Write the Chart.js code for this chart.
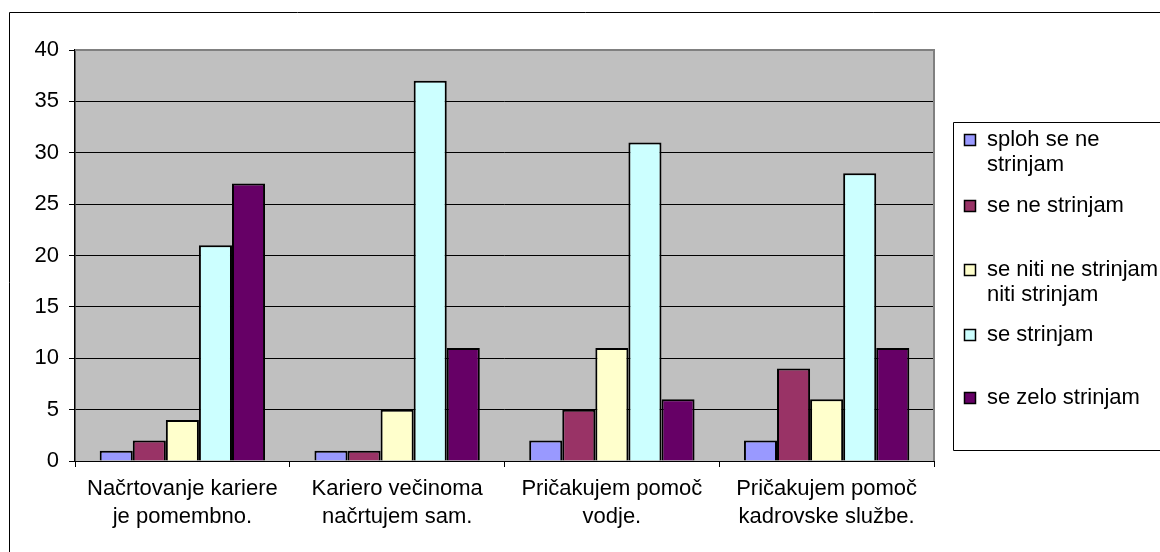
<!DOCTYPE html>
<html>
<head>
<meta charset="utf-8">
<script src="https://cdn.jsdelivr.net/npm/chart.js@4/dist/chart.umd.min.js"></script>
<style>
  html, body { margin: 0; padding: 0; background: #fff; overflow: hidden; }
  #wrap { position: relative; width: 1160px; height: 552px; }
</style>
</head>
<body>
<div id="wrap"><canvas id="chart"></canvas></div>
<script>
// kategorije (vprašanja)
const categories = [
    ['Načrtovanje kariere', 'je pomembno.'],
    ['Kariero večinoma', 'načrtujem sam.'],
    ['Pričakujem pomoč', 'vodje.'],
    ['Pričakujem pomoč', 'kadrovske službe.']
];

// odgovori po kategorijah
const splohSeNe = [1, 1, 2, 2];
const seNe = [2, 1, 5, 9];
const nitiNiti = [4, 5, 11, 6];
const seStrinjam = [21, 37, 31, 28];
const zeloStrinjam = [27, 11, 6, 11];

const seriesLabels = [
    ['sploh se ne', 'strinjam'],
    ['se ne strinjam'],
    ['se niti ne strinjam', 'niti strinjam'],
    ['se strinjam'],
    ['se zelo strinjam']
];
const seriesColors = ['#9999FF', '#993366', '#FFFFCC', '#CCFFFF', '#660066'];

const FONT = "'Liberation Sans', Arial, sans-serif";

// siva podlaga, okvir grafa in legenda (Excel stil)
const excelLook = {
    id: 'excelLook',
    beforeDraw(chart) {
        const { ctx, chartArea: a } = chart;
        ctx.save();
        ctx.fillStyle = '#C0C0C0';
        ctx.fillRect(a.left, a.top, a.right - a.left, a.bottom - a.top);
        ctx.restore();
    },
    afterDatasetsDraw(chart) {
        const { ctx, chartArea: a } = chart;
        ctx.save();
        ctx.strokeStyle = '#808080';
        ctx.lineWidth = 2;
        ctx.beginPath();
        ctx.moveTo(a.left, a.top);
        ctx.lineTo(a.right, a.top);
        ctx.lineTo(a.right, a.bottom);
        ctx.stroke();
        ctx.restore();
    },
    afterDraw(chart) {
        const ctx = chart.ctx;
        ctx.save();
        // zunanji okvir
        ctx.strokeStyle = '#000';
        ctx.lineWidth = 1;
        ctx.beginPath();
        ctx.moveTo(9.5, 560);
        ctx.lineTo(9.5, 12.5);
        ctx.lineTo(1170, 12.5);
        ctx.stroke();
        // legenda
        ctx.beginPath();
        ctx.rect(953.5, 122.5, 230, 328);
        ctx.stroke();
        const rows = [140, 206, 270, 335, 398];
        ctx.font = '22px ' + FONT;
        ctx.textBaseline = 'middle';
        ctx.textAlign = 'left';
        chart.data.datasets.forEach((ds, i) => {
            const y = rows[i];
            ctx.fillStyle = ds.backgroundColor;
            ctx.fillRect(964.5, y - 5.5, 11, 11);
            ctx.strokeStyle = '#000';
            ctx.lineWidth = 1.5;
            ctx.strokeRect(964.5, y - 5.5, 11, 11);
            ctx.fillStyle = '#000';
            seriesLabels[i].forEach((t, j) => ctx.fillText(t, 987, y + j * 25));
        });
        ctx.restore();
    }
};

const values = [splohSeNe, seNe, nitiNiti, seStrinjam, zeloStrinjam];

new Chart(document.getElementById('chart'), {
    type: 'bar',
    data: {
        labels: categories,
        datasets: values.map((v, i) => ({
            label: seriesLabels[i].join(' '),
            data: v,
            backgroundColor: seriesColors[i],
            borderColor: '#000',
            borderWidth: 2,
            borderSkipped: 'bottom',
            categoryPercentage: 0.77,
            barPercentage: 1
        }))
    },
    options: {
        responsive: true,
        maintainAspectRatio: false,
        animation: false,
        layout: { padding: { left: 0, top: 50, right: 226, bottom: 0 } },
        plugins: {
            legend: { display: false },
            tooltip: { enabled: false }
        },
        scales: {
            x: {
                afterFit(scale) { scale.height = 91; },
                grid: {
                    offset: true,
                    drawOnChartArea: false,
                    drawTicks: true,
                    tickLength: 6,
                    color: '#000'
                },
                border: { color: '#000', width: 1 },
                ticks: {
                    color: '#000',
                    padding: 8,
                    maxRotation: 0,
                    autoSkip: false,
                    font: { family: FONT, size: 22, lineHeight: 1.27 }
                }
            },
            y: {
                min: 0,
                max: 40,
                afterFit(scale) { scale.width = 75; },
                grid: {
                    color: '#000',
                    lineWidth: 1,
                    drawTicks: true,
                    tickLength: 6
                },
                border: { color: '#000', width: 1.5 },
                ticks: {
                    stepSize: 5,
                    color: '#000',
                    padding: 10,
                    font: { family: FONT, size: 22 }
                }
            }
        }
    },
    plugins: [excelLook]
});
</script>
</body>
</html>
